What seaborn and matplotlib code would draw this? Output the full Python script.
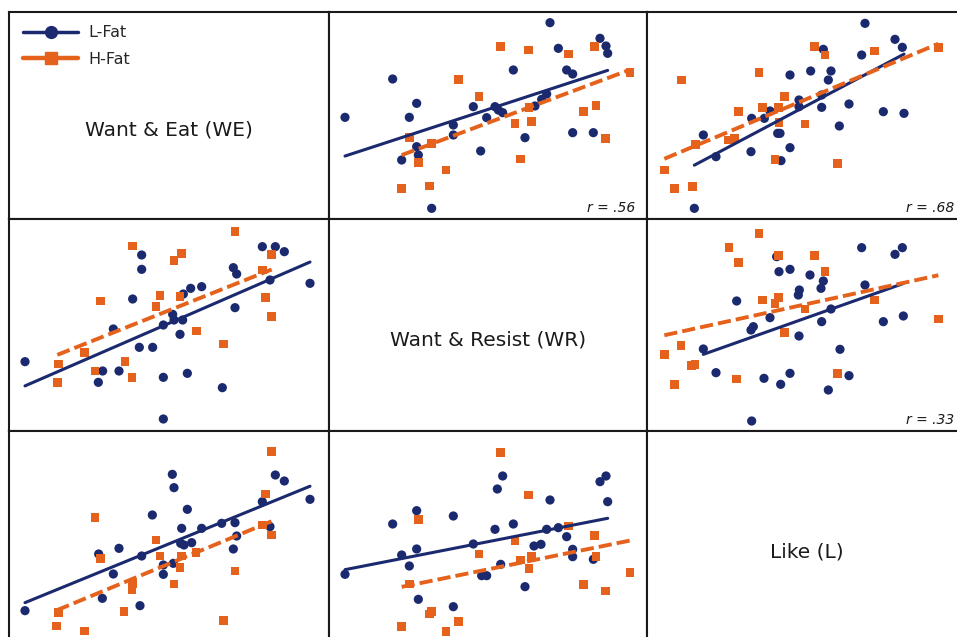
import matplotlib
matplotlib.use("Agg")
import matplotlib.pyplot as plt
from matplotlib.lines import Line2D
import seaborn as sns

BLUE = "#1b2a6e"
ORANGE = "#e5621c"

# digitised scores for each off-diagonal panel (y read downward off the scan)
# row Want & Eat / column Want & Resist
we_wr_lfat_x = [45, 188, 260, 238, 260, 265, 215, 305, 370, 370, 430, 452, 470, 495, 505,
                518, 550, 585, 615, 635, 650, 660, 685, 710, 728, 728, 790, 810, 828, 833]
we_wr_lfat_y = [352, 237, 310, 352, 440, 465, 480, 625, 375, 405, 320, 453, 353, 320, 330,
                338, 210, 413, 318, 298, 282, 68, 145, 210, 222, 398, 398, 115, 138, 160]
we_wr_hfat_x = [238, 265, 215, 298, 305, 348, 385, 447, 512, 555, 572, 595, 597, 605, 715,
                760, 793, 798, 826, 900]
we_wr_hfat_y = [413, 487, 565, 558, 430, 510, 238, 290, 140, 370, 477, 150, 322, 365, 162,
                335, 140, 317, 415, 217]

# row Want & Eat / column Like
we_l_lfat_x = [148, 175, 213, 318, 320, 358, 375, 398, 405, 408, 435, 435, 462, 462, 497,
               530, 530, 535, 550, 558, 583, 612, 650, 660, 715, 750, 772, 777]
we_l_lfat_y = [625, 405, 470, 455, 355, 355, 333, 400, 400, 482, 225, 443, 300, 320, 213,
               285, 322, 148, 240, 213, 378, 312, 165, 70, 335, 118, 142, 340]
we_l_hfat_x = [58, 88, 110, 142, 152, 250, 268, 280, 342, 352, 400, 402, 418, 390, 480,
               508, 540, 577, 688, 880]
we_l_hfat_y = [510, 565, 240, 560, 433, 420, 415, 335, 218, 322, 322, 368, 290, 478, 372,
               140, 165, 490, 153, 143]

# row Want & Resist / column Want & Eat
wr_we_lfat_x = [75, 295, 308, 340, 357, 398, 425, 425, 418, 458, 490, 490, 490, 518, 522,
                548, 540, 550, 562, 572, 605, 667, 700, 710, 705, 787, 810, 826, 853, 930]
wr_we_lfat_y = [440, 502, 468, 342, 468, 252, 120, 163, 397, 397, 487, 330, 612, 298, 315,
                315, 358, 237, 475, 220, 215, 518, 158, 177, 278, 95, 195, 95, 110, 205]
wr_we_hfat_x = [172, 175, 253, 285, 302, 375, 396, 397, 468, 480, 522, 545, 540, 590, 670,
                705, 788, 797, 815, 815]
wr_we_hfat_y = [502, 447, 413, 468, 258, 440, 487, 93, 275, 242, 137, 115, 245, 348, 387,
                50, 165, 248, 118, 305]

# row Want & Resist / column Like
wr_l_lfat_x = [175, 213, 275, 318, 325, 320, 357, 375, 395, 402, 407, 435, 435, 462, 460,
               463, 495, 528, 535, 530, 550, 558, 585, 612, 650, 660, 715, 750, 772, 775]
wr_l_lfat_y = [402, 473, 258, 345, 335, 618, 490, 308, 125, 170, 508, 163, 475, 363, 240,
               225, 180, 220, 198, 320, 525, 282, 403, 482, 98, 210, 320, 118, 98, 303]
wr_l_hfat_x = [58, 88, 108, 140, 150, 252, 280, 275, 342, 352, 390, 400, 400, 418, 480,
               508, 540, 578, 688, 880]
wr_l_hfat_y = [418, 508, 392, 452, 448, 98, 143, 492, 55, 255, 265, 248, 122, 353, 282,
               122, 170, 475, 255, 312]

# row Like / column Want & Eat
l_we_lfat_x = [75, 296, 307, 340, 357, 420, 425, 457, 490, 490, 517, 522, 520, 545, 542,
               552, 562, 575, 605, 665, 705, 710, 700, 787, 810, 826, 853, 930]
l_we_lfat_y = [542, 372, 505, 432, 355, 527, 378, 255, 405, 433, 133, 173, 400, 295, 340,
               345, 238, 338, 295, 280, 278, 318, 357, 215, 290, 135, 153, 208]
l_we_hfat_x = [170, 175, 253, 285, 302, 372, 396, 397, 468, 480, 522, 545, 540, 588, 670,
               705, 788, 797, 815, 815]
l_we_hfat_y = [588, 548, 603, 262, 385, 545, 478, 460, 330, 378, 462, 378, 412, 368, 572,
               423, 285, 192, 315, 65]

# row Like / column Want & Resist
l_wr_lfat_x = [45, 188, 215, 238, 260, 260, 265, 370, 370, 430, 455, 470, 495, 502, 512,
               518, 550, 585, 612, 633, 650, 660, 685, 710, 728, 728, 790, 810, 828, 833]
l_wr_lfat_y = [433, 282, 375, 408, 242, 357, 508, 258, 530, 342, 437, 437, 298, 177, 403,
               138, 282, 470, 348, 343, 298, 210, 293, 320, 358, 380, 388, 155, 138, 215]
l_wr_hfat_x = [215, 238, 265, 298, 305, 348, 385, 447, 512, 555, 572, 595, 597, 605, 715,
               760, 793, 798, 826, 900]
l_wr_hfat_y = [590, 462, 268, 552, 545, 605, 575, 372, 67, 333, 390, 195, 415, 380, 288,
               463, 317, 380, 483, 428]

variable_labels = ["Want & Eat (WE)", "Want & Resist (WR)", "Like (L)"]
group_labels = ["L-Fat", "H-Fat"]
r_labels = {(0, 1): "r = .56", (0, 2): "r = .68", (1, 2): "r = .33"}

panels = {
    (0, 1): (we_wr_lfat_x, we_wr_lfat_y, we_wr_hfat_x, we_wr_hfat_y, (-3, 951), (657, 36)),
    (0, 2): (we_l_lfat_x, we_l_lfat_y, we_l_hfat_x, we_l_hfat_y, (6, 963), (657, 36)),
    (1, 0): (wr_we_lfat_x, wr_we_lfat_y, wr_we_hfat_x, wr_we_hfat_y, (27, 987), (648, 12)),
    (1, 2): (wr_l_lfat_x, wr_l_lfat_y, wr_l_hfat_x, wr_l_hfat_y, (6, 963), (648, 12)),
    (2, 0): (l_we_lfat_x, l_we_lfat_y, l_we_hfat_x, l_we_hfat_y, (27, 987), (639, 3)),
    (2, 1): (l_wr_lfat_x, l_wr_lfat_y, l_wr_hfat_x, l_wr_hfat_y, (-3, 951), (639, 3)),
}

sns.set_theme(style="white")
plt.rcParams["font.family"] = ["DejaVu Sans"]

W, H = 957, 637
fig = plt.figure(figsize=(W / 100, H / 100), dpi=100)
col_edges = [9, 329, 647, 966]
row_edges = [12, 219, 431, 643]

for i in range(3):
    for j in range(3):
        x0, x1 = col_edges[j], col_edges[j + 1]
        y0, y1 = row_edges[i], row_edges[i + 1]
        ax = fig.add_axes([x0 / W, 1 - y1 / H, (x1 - x0) / W, (y1 - y0) / H])

        if i == j:
            ax.text(0.5, 0.43, variable_labels[i], transform=ax.transAxes,
                    ha="center", va="center", fontsize=14.5, color="#1a1a1a")
        else:
            lx, ly, hx, hy, xlim, ylim = panels[(i, j)]
            sns.scatterplot(x=lx, y=ly, ax=ax, marker="o", color=BLUE, s=44,
                            edgecolor="none", zorder=2)
            sns.scatterplot(x=hx, y=hy, ax=ax, marker="s", color=ORANGE, s=38,
                            edgecolor="none", zorder=2)
            sns.regplot(x=lx, y=ly, ax=ax, scatter=False, ci=None, truncate=True,
                        line_kws=dict(color=BLUE, lw=2.2, zorder=3))
            sns.regplot(x=hx, y=hy, ax=ax, scatter=False, ci=None, truncate=True,
                        line_kws=dict(color=ORANGE, lw=2.8, dashes=(3.4, 1.3), zorder=3))
            ax.set_xlim(*xlim)
            ax.set_ylim(*ylim)
            if (i, j) in r_labels:
                ax.text(1 - 12 / (x1 - x0), 11 / (y1 - y0), r_labels[(i, j)],
                        transform=ax.transAxes, ha="right", va="center",
                        fontsize=10, style="italic", color="#1a1a1a")

        ax.set_xticks([])
        ax.set_yticks([])
        ax.set_xlabel("")
        ax.set_ylabel("")
        for sp in ax.spines.values():
            sp.set_color("#1a1a1a")
            sp.set_linewidth(1.5)

        if i == 0 and j == 0:
            handles = [
                Line2D([], [], color=BLUE, lw=2.5, marker="o", ms=8.5),
                Line2D([], [], color=ORANGE, lw=3.2, marker="s", ms=8),
            ]
            ax.legend(handles, group_labels, loc="upper left", frameon=False,
                      fontsize=11.5, handlelength=3.4, handletextpad=0.7,
                      labelspacing=0.7, borderaxespad=0,
                      bbox_to_anchor=(8 / 320, 1 - 7 / 207))

fig.savefig("out.png", dpi=100)
